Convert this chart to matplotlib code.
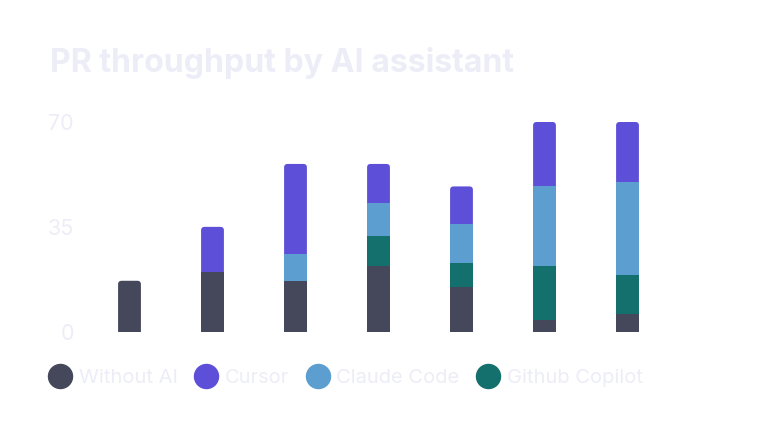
import matplotlib.pyplot as plt
from matplotlib.patches import FancyBboxPatch
import numpy as np

plt.rcParams['font.family'] = ['Inter', 'DejaVu Sans']

n_bars = 7
without_ai = [17, 20, 17, 22, 15, 4, 6]
copilot = [0, 0, 0, 10, 8, 18, 13]
claude = [0, 0, 9, 11, 13, 26.6, 31]
cursor = [0, 15, 30, 13, 12.5, 21.4, 20]

series = [without_ai, copilot, claude, cursor]
names = ['Without AI', 'Github Copilot', 'Claude Code', 'Cursor']
colors = ['#45475B', '#14706C', '#5B9ECF', '#5E4FD8']
legend_order = [0, 3, 2, 1]
yticks = [0, 35, 70]
faint = '#EDEDF7'

fig = plt.figure(figsize=(7.66, 4.30), dpi=100)
ax = fig.add_axes([88 / 766, 1 - 331.7 / 430, 581 / 766, 209.7 / 430])
x = np.arange(n_bars)
w = 0.275

# rounded cap: full-height patch in the colour of the top segment, lower ones drawn over it
for i in range(n_bars):
    vals = [s[i] for s in series]
    total = sum(vals)
    top_idx = max(k for k in range(4) if vals[k] > 0)
    r = 3.5 / 83
    cap = FancyBboxPatch((x[i] - w / 2, -5), w, total + 5,
                         boxstyle='round,pad=0,rounding_size=%f' % r,
                         mutation_aspect=83 / 3.0,
                         fc=colors[top_idx], ec='none', zorder=2)
    ax.add_patch(cap)
    bottom = 0
    for k in range(top_idx):
        if vals[k] > 0:
            ax.bar(x[i], vals[k], w, bottom=bottom, color=colors[k], zorder=3)
        bottom += vals[k]

ax.set_xlim(-0.5, 6.5)
ax.set_ylim(0, 70)
ax.set_yticks(yticks)
ax.set_xticks([])
ax.tick_params(axis='y', length=0, labelsize=15.5, labelcolor=faint, pad=10)
for sp in ax.spines.values():
    sp.set_visible(False)

fig.text(50 / 766, 1 - 63 / 430, 'PR throughput by AI assistant', fontsize=23.1,
         fontweight='bold', color=faint, va='center', ha='left')

handles = [plt.Line2D([], [], marker='o', ls='none', ms=17.3, color=colors[k]) for k in legend_order]
fig.legend(handles, [names[k] for k in legend_order], loc='center left',
           bbox_to_anchor=(48 / 766, 1 - 378 / 430), ncol=4, frameon=False,
           fontsize=14.5, labelcolor=faint, handletextpad=0.3, columnspacing=0.8,
           handlelength=1.24, borderaxespad=0, borderpad=0)

fig.savefig('out.png', dpi=100, facecolor='white')
